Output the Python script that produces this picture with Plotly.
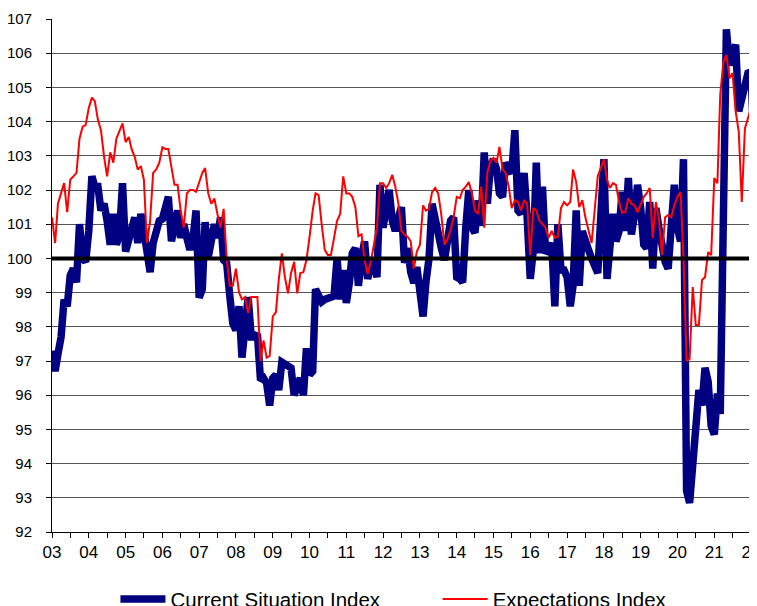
import pandas as pd
import plotly.graph_objects as go

# Monthly values, Jan 2003 .. Mar 2022
current_situation = [
    # 2003
    97.3, 96.7, 97.2, 97.7, 98.8, 98.6, 99.5, 99.7, 99.3, 101.0, 100.0, 99.9,
    # 2004
    100.8, 102.4, 102.1, 102.1, 101.4, 101.6, 101.1, 100.4, 101.3, 100.4, 100.7, 102.2,
    # 2005
    100.2, 100.6, 100.9, 101.2, 100.45, 101.3, 100.8, 100.25, 99.6, 100.45, 100.9, 101.1,
    # 2006
    101.15, 101.5, 101.8, 100.5, 101.1, 101.4, 100.6, 101.0, 100.6, 100.25, 100.6, 101.4,
    # 2007
    98.85, 99.1, 101.06, 100.04, 100.5, 101.0, 100.6, 101.2, 99.95, 99.86, 98.9, 98.1,
    # 2008
    97.9, 98.6, 97.1, 98.0, 98.87, 97.7, 97.7, 97.8, 96.44, 96.5, 96.35, 95.7,
    # 2009
    96.5, 96.6, 96.15, 96.97, 96.9, 96.85, 96.8, 96.0, 96.3, 96.5, 96.0, 97.37,
    # 2010
    96.6, 96.7, 99.1, 98.9, 98.73, 98.8, 98.85, 98.87, 98.9, 100.0, 98.8, 99.66,
    # 2011
    98.7, 99.3, 100.15, 100.3, 99.2, 100.0, 100.5, 99.4, 99.8, 99.9, 99.45, 102.15,
    # 2012
    100.9, 101.5, 102.0, 101.1, 100.8, 101.2, 101.5, 99.87, 100.3, 99.6, 99.28, 99.75,
    # 2013
    99.1, 98.3, 99.3, 100.0, 101.6, 101.1, 100.9, 100.3, 99.95, 100.6, 101.1, 101.2,
    # 2014
    99.45, 99.4, 99.3, 100.9, 102.0, 100.9, 100.75, 101.7, 100.95, 103.1, 101.6, 102.7,
    # 2015
    102.9, 102.6, 101.9, 101.8, 102.8, 102.6, 102.5, 103.75, 101.4, 101.3, 102.5, 101.2,
    # 2016
    99.4, 100.25, 102.8, 100.15, 102.1, 100.15, 100.25, 100.45, 98.6, 101.0, 99.66, 99.66,
    # 2017
    99.45, 98.6, 99.2, 101.4, 99.2, 100.8, 100.45, 100.25, 100.0, 99.75, 99.57, 101.2,
    # 2018
    102.9, 99.4, 100.45, 101.3, 100.5, 100.8, 101.95, 100.8, 102.35, 100.7, 101.27, 102.15,
    # 2019
    101.47, 100.4, 100.3, 101.65, 99.7, 101.47, 100.9, 100.2, 99.9, 99.7, 100.9, 102.15,
    # 2020
    100.9, 100.5, 102.9, 93.2, 92.85, 94.0, 94.6, 96.15, 95.7, 96.8, 96.4, 95.1,
    # 2021
    94.85, 96.05, 95.45, 101.0, 106.7, 105.65, 105.95, 106.25, 104.3, 104.7, 105.2, 105.42,
    # 2022
    105.45, 103.0, 104.6,
]

expectations = [
    # 2003
    101.2, 100.45, 101.6, 101.9, 102.2, 101.35, 102.3, 102.4, 102.5, 103.5, 103.85, 103.9,
    # 2004
    104.4, 104.7, 104.6, 104.05, 103.75, 102.97, 102.4, 103.1, 102.8, 103.5, 103.75, 103.95,
    # 2005
    103.4, 103.55, 103.2, 102.97, 102.6, 102.7, 102.3, 100.45, 101.1, 102.5, 102.6, 102.8,
    # 2006
    103.25, 103.2, 103.2, 102.6, 102.15, 102.15, 101.4, 100.9, 101.9, 102.0, 102.0, 101.95,
    # 2007
    102.2, 102.5, 102.64, 101.9, 101.6, 101.75, 101.3, 100.9, 101.45, 100.0, 99.2, 99.2,
    # 2008
    99.7, 99.0, 98.8, 98.87, 98.4, 98.87, 98.87, 98.87, 97.0, 97.6, 97.1, 97.15,
    # 2009
    98.3, 98.43, 99.37, 100.15, 99.45, 98.98, 99.57, 99.9, 98.98, 99.57, 99.6, 99.95,
    # 2010
    100.63, 101.4, 101.9, 101.85, 101.0, 100.25, 100.1, 100.1, 100.6, 101.1, 101.3, 102.4,
    # 2011
    101.9, 101.9, 101.8, 101.5, 100.65, 100.7, 99.95, 99.55, 99.9, 100.45, 100.9, 102.2,
    # 2012
    102.2, 102.06, 102.2, 102.44, 102.1, 101.6, 100.8, 100.7, 100.63, 100.5, 99.7, 100.2,
    # 2013
    100.4, 101.55, 101.4, 101.45, 101.94, 102.06, 101.9, 101.27, 100.4, 100.55, 100.83, 101.2,
    # 2014
    101.8, 101.76, 102.0, 102.1, 102.23, 101.9, 101.4, 101.3, 102.1, 100.9, 102.5, 102.85,
    # 2015
    102.94, 102.8, 103.26, 102.6, 102.5, 102.1, 101.47, 101.7, 101.65, 101.4, 101.7, 101.6,
    # 2016
    100.1, 101.47, 101.4, 101.1, 101.0, 100.9, 100.6, 100.8, 100.6, 100.63, 101.47, 101.65,
    # 2017
    101.55, 101.65, 102.6, 102.23, 101.5, 101.7, 101.2, 100.83, 100.45, 101.4, 102.4, 102.64,
    # 2018
    102.9, 102.3, 102.06, 102.2, 102.15, 101.65, 101.33, 101.35, 101.76, 101.6, 101.55, 101.35,
    # 2019
    101.6, 101.8, 101.9, 102.06, 100.6, 101.65, 101.18, 100.1, 101.2, 101.27, 101.2, 101.55,
    # 2020
    101.8, 101.94, 100.0, 97.0, 97.06, 99.16, 98.05, 98.05, 99.37, 99.45, 100.18, 100.1,
    # 2021
    102.35, 102.2, 104.78, 105.74, 105.95, 105.27, 105.42, 104.3, 103.7, 101.65, 103.8, 104.1,
    # 2022
    104.4, 103.8, 103.0,
]

months = pd.date_range("2003-01-01", periods=len(current_situation), freq="MS")

year_ticks = pd.date_range("2003-01-01", "2022-01-01", freq="YS")
year_labels = [f"{d.year % 100:02d}" for d in year_ticks]

y_ticks = list(range(92, 108))
reference_level = 100

FONT = "Liberation Sans, Arial, sans-serif"

fig = go.Figure()
fig.add_trace(go.Scatter(
    x=months, y=current_situation, mode="lines",
    name="Current Situation Index",
    line=dict(color="#000080", width=7.5),
    legend="legend",
))
fig.add_trace(go.Scatter(
    x=months, y=expectations, mode="lines",
    name="Expectations Index",
    line=dict(color="#FF0000", width=2),
    legend="legend2",
))

fig.add_shape(type="line", xref="paper", x0=0, x1=1, yref="y",
              y0=reference_level, y1=reference_level,
              line=dict(color="black", width=4), layer="above")

# The page body adds an 8px margin, so the figure is 749x598 to fill the 757x606 window.
fig.update_layout(
    width=749, height=598,
    margin=dict(l=44, r=0, t=11, b=74, autoexpand=False),
    paper_bgcolor="white", plot_bgcolor="white",
    font=dict(family=FONT, color="black"),
    legend=dict(orientation="h", x=0.090, xanchor="left", y=-0.131, yanchor="middle",
                font=dict(size=20.5), itemwidth=45, bgcolor="rgba(0,0,0,0)"),
    legend2=dict(orientation="h", x=0.547, xanchor="left", y=-0.131, yanchor="middle",
                 font=dict(size=20.5), itemwidth=45, bgcolor="rgba(0,0,0,0)"),
    showlegend=True,
)

fig.update_xaxes(
    type="date",
    range=["2003-01-01", "2022-03-01"],
    tickvals=year_ticks, ticktext=year_labels,
    ticks="outside", ticklen=5, tickcolor="black",
    minor=dict(dtick="M6", tick0="2003-01-01", ticks="outside", ticklen=5, tickcolor="black", showgrid=False),
    showline=True, linecolor="black", linewidth=1,
    showgrid=False, tickfont=dict(size=17, family=FONT),
    ticklabeloverflow="allow",
    automargin=False,
)
fig.update_yaxes(
    range=[92, 107],
    tickvals=y_ticks,
    ticks="outside", ticklen=5, tickcolor="black",
    showline=True, linecolor="black", linewidth=1,
    showgrid=True, gridcolor="#555555", gridwidth=1,
    zeroline=False,
    tickfont=dict(size=15, family=FONT),
    ticklabelstandoff=11,
    automargin=False,
)

fig.write_html("out.html")
